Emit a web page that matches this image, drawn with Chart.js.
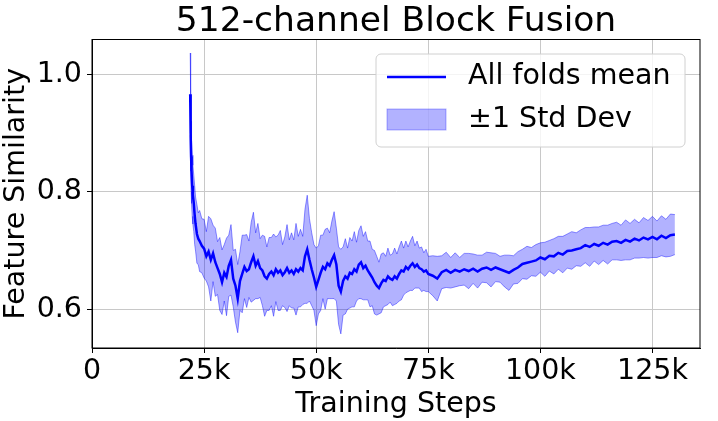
<!DOCTYPE html>
<html>
<head>
<meta charset="utf-8">
<script src="https://cdn.jsdelivr.net/npm/chart.js@4.4.1/dist/chart.umd.min.js"></script>
<style>
  body { margin: 0; background: #fff; }
  #wrap { width: 718px; height: 421px; }
</style>
</head>
<body>
<div id="wrap"><canvas id="myGrafic" width="718" height="421"></canvas></div>
<script>
// training steps (thousands)
var passos = [21.9, 22.0, 22.1, 22.2, 22.35, 22.5, 22.7, 22.9, 23.1, 23.4, 23.7, 24.0, 24.5,
    25.0, 25.5, 26.0, 26.5, 27.0, 27.5, 28.0, 28.5, 29.0, 29.5, 30.0, 30.5, 31.0, 31.5, 32.0, 32.5, 33.0, 33.5, 34.0, 34.5,
    35.0, 35.5, 36.0, 36.5, 37.0, 37.5, 38.0, 38.5, 39.0, 39.5, 40.0, 40.5, 41.0, 41.5, 42.0, 42.5, 43.0, 43.5, 44.0, 44.5,
    45.0, 45.5, 46.0, 46.5, 47.0, 47.5, 48.0, 48.5, 49.0, 49.5, 50.0, 50.5, 51.0, 51.5, 52.0, 52.5, 53.0, 53.5, 54.0, 54.5,
    55.0, 55.5, 56.0, 56.5, 57.0, 57.5, 58.0, 58.5, 59.0, 59.5, 60.0, 60.5, 61.0, 61.5, 62.0, 62.5, 63.0, 63.5, 64.0, 64.5,
    65.0, 65.5, 66.0, 66.5, 67.0, 67.5, 68.0, 68.5, 69.0, 69.5, 70.0, 70.5, 71.0, 71.5, 72.0, 72.5, 73.0, 73.5, 74.0, 74.5,
    75, 76, 77, 78, 79, 80, 81, 82, 83, 84, 85, 86, 87, 88, 89, 90, 91, 92, 93, 94, 95,
    96, 97, 98, 99, 100, 101, 102, 103, 104, 105, 106, 107, 108, 109, 110, 111, 112, 113, 114, 115,
    116, 117, 118, 119, 120, 121, 122, 123, 124, 125, 126, 127, 128, 129, 130];

// all folds mean
var media = [0.966, 0.900, 0.860, 0.835, 0.810, 0.795, 0.780, 0.760, 0.745, 0.728, 0.720, 0.716, 0.708,
    0.703, 0.690, 0.698, 0.684, 0.695, 0.680, 0.670, 0.660, 0.646, 0.662, 0.655, 0.674, 0.684, 0.652, 0.640, 0.618, 0.648, 0.660, 0.672, 0.665,
    0.668, 0.680, 0.690, 0.674, 0.682, 0.670, 0.666, 0.656, 0.652, 0.660, 0.664, 0.658, 0.668, 0.662, 0.666, 0.658, 0.663, 0.670, 0.662, 0.666,
    0.660, 0.668, 0.664, 0.670, 0.666, 0.690, 0.702, 0.684, 0.668, 0.654, 0.638, 0.650, 0.662, 0.672, 0.668, 0.678, 0.674, 0.684, 0.692, 0.676,
    0.640, 0.630, 0.648, 0.656, 0.652, 0.662, 0.660, 0.668, 0.664, 0.676, 0.680, 0.670, 0.674, 0.666, 0.660, 0.654, 0.646, 0.640, 0.636, 0.644,
    0.650, 0.648, 0.656, 0.652, 0.650, 0.656, 0.652, 0.660, 0.666, 0.664, 0.672, 0.668, 0.674, 0.678, 0.672, 0.676, 0.670, 0.668, 0.664, 0.666,
    0.660, 0.657, 0.652, 0.663, 0.667, 0.662, 0.667, 0.664, 0.668, 0.665, 0.669, 0.664, 0.669, 0.671, 0.667, 0.671, 0.668, 0.665, 0.662, 0.667, 0.671,
    0.677, 0.679, 0.681, 0.683, 0.688, 0.685, 0.691, 0.690, 0.696, 0.693, 0.699, 0.700, 0.702, 0.704, 0.709, 0.706, 0.711, 0.708, 0.713, 0.710,
    0.715, 0.716, 0.713, 0.718, 0.715, 0.720, 0.717, 0.722, 0.719, 0.723, 0.719, 0.725, 0.721, 0.726, 0.727];

// standard deviation across folds
var desvio = [0.070, 0.065, 0.060, 0.055, 0.052, 0.050, 0.048, 0.050, 0.046, 0.050, 0.044, 0.052, 0.046,
    0.050, 0.042, 0.060, 0.070, 0.048, 0.058, 0.045, 0.062, 0.055, 0.048, 0.066, 0.052, 0.060, 0.048, 0.062, 0.058, 0.050, 0.066, 0.054, 0.062,
    0.048, 0.068, 0.075, 0.056, 0.064, 0.050, 0.060, 0.068, 0.054, 0.062, 0.058, 0.070, 0.055, 0.064, 0.068, 0.052, 0.060, 0.074, 0.056, 0.064,
    0.058, 0.078, 0.060, 0.066, 0.058, 0.080, 0.092, 0.070, 0.062, 0.056, 0.066, 0.058, 0.064, 0.054, 0.068, 0.060, 0.056, 0.066, 0.074, 0.062,
    0.066, 0.072, 0.058, 0.064, 0.052, 0.060, 0.056, 0.064, 0.050, 0.058, 0.062, 0.054, 0.058, 0.050, 0.056, 0.048, 0.054, 0.050, 0.044, 0.050,
    0.046, 0.042, 0.048, 0.040, 0.044, 0.048, 0.042, 0.046, 0.050, 0.040, 0.044, 0.038, 0.042, 0.046, 0.036, 0.040, 0.034, 0.038, 0.032, 0.036,
    0.030, 0.034, 0.038, 0.028, 0.030, 0.026, 0.029, 0.024, 0.027, 0.030, 0.025, 0.028, 0.023, 0.026, 0.029, 0.024, 0.022, 0.027, 0.030, 0.024, 0.027,
    0.025, 0.028, 0.024, 0.027, 0.025, 0.029, 0.026, 0.030, 0.028, 0.031, 0.029, 0.032, 0.028, 0.031, 0.030, 0.033, 0.029, 0.032, 0.030, 0.033,
    0.031, 0.032, 0.030, 0.034, 0.031, 0.033, 0.030, 0.034, 0.032, 0.035, 0.031, 0.034, 0.032, 0.036, 0.034];

var ticksX = [0, 25, 50, 75, 100, 125];
var ticksY = [0.6, 0.8, 1.0];

var titulo = '512-channel Block Fusion';
var legendas = ['All folds mean', '\u00b11 Std Dev'];

var fonte = '"DejaVu Sans", sans-serif';

var linhaMedia = passos.map((s, i) => ({ x: s, y: media[i] }));
var linhaSup = passos.map((s, i) => ({ x: s, y: media[i] + desvio[i] }));
var linhaInf = passos.map((s, i) => ({ x: s, y: media[i] - desvio[i] }));

// title, frame and legend box
const extras = {
    id: 'extras',
    afterDraw(chart) {
        const ctx = chart.ctx;
        const a = chart.chartArea;
        ctx.save();
        ctx.strokeStyle = '#000';
        ctx.lineWidth = 1;
        ctx.strokeRect(a.left, a.top, a.right - a.left, a.bottom - a.top);

        ctx.fillStyle = '#000';
        ctx.font = '34.5px ' + fonte;
        ctx.textAlign = 'center';
        ctx.textBaseline = 'alphabetic';
        ctx.fillText(titulo, (a.left + a.right) / 2, 31);

        // legend
        const w = 309, h = 93;
        const x0 = a.right - 15 - w, y0 = a.top + 14.5;
        ctx.beginPath();
        ctx.roundRect(x0, y0, w, h, 5);
        ctx.fillStyle = 'rgba(255,255,255,0.8)';
        ctx.fill();
        ctx.strokeStyle = '#d0d0d0';
        ctx.stroke();

        ctx.strokeStyle = '#0000ff';
        ctx.lineWidth = 2.5;
        ctx.beginPath();
        ctx.moveTo(x0 + 11, y0 + 23);
        ctx.lineTo(x0 + 70, y0 + 23);
        ctx.stroke();

        ctx.fillStyle = 'rgba(0,0,255,0.3)';
        ctx.fillRect(x0 + 11, y0 + 55, 59, 21);
        ctx.strokeStyle = 'rgba(0,0,255,0.3)';
        ctx.lineWidth = 1;
        ctx.strokeRect(x0 + 11, y0 + 55, 59, 21);

        ctx.fillStyle = '#000';
        ctx.font = '28.5px ' + fonte;
        ctx.textAlign = 'left';
        ctx.textBaseline = 'middle';
        ctx.fillText(legendas[0], x0 + 92, y0 + 23);
        ctx.fillText(legendas[1], x0 + 92, y0 + 66);
        ctx.restore();
    }
};

var ctx = document.getElementById('myGrafic').getContext('2d');
var grafico = new Chart(ctx, {
    type: 'line',
    data: {
        datasets: [
            {
                label: legendas[0],
                data: linhaMedia,
                borderColor: '#0000ff',
                borderWidth: 2.5,
                pointRadius: 0,
                fill: false,
                tension: 0
            },
            {
                label: 'upper',
                data: linhaSup,
                borderColor: 'rgba(0,0,255,0.42)',
                borderWidth: 1,
                pointRadius: 0,
                fill: false,
                tension: 0
            },
            {
                label: legendas[1],
                data: linhaInf,
                borderColor: 'rgba(0,0,255,0.42)',
                borderWidth: 1,
                backgroundColor: 'rgba(0,0,255,0.3)',
                pointRadius: 0,
                fill: '-1',
                tension: 0
            }
        ]
    },
    plugins: [extras],
    options: {
        responsive: false,
        animation: false,
        devicePixelRatio: 1,
        layout: { padding: { top: 39.5, right: 18, left: 0, bottom: 0 } },
        plugins: {
            legend: { display: false },
            title: { display: false },
            tooltip: { enabled: false }
        },
        scales: {
            x: {
                type: 'linear',
                min: 0,
                max: 135.6,
                afterBuildTicks: s => { s.ticks = ticksX.map(v => ({ value: v })); },
                afterFit: s => { s.height = 73; },
                ticks: {
                    color: '#000',
                    font: { family: fonte, size: 28.5 },
                    padding: 1,
                    maxRotation: 0,
                    callback: v => v === 0 ? '0' : v + 'k'
                },
                grid: { color: '#c8c8c8', tickColor: '#000', tickLength: 5 },
                border: { color: '#000' },
                title: {
                    display: true,
                    text: 'Training Steps',
                    color: '#000',
                    font: { family: fonte, size: 28.5, lineHeight: 1 },
                    padding: { top: 0, bottom: 2 }
                }
            },
            y: {
                min: 0.534,
                max: 1.059,
                afterBuildTicks: s => { s.ticks = ticksY.map(v => ({ value: v })); },
                afterFit: s => { s.width = 92; },
                ticks: {
                    color: '#000',
                    font: { family: fonte, size: 28.5 },
                    padding: 5,
                    callback: v => v.toFixed(1)
                },
                grid: { color: '#c8c8c8', tickColor: '#000', tickLength: 5 },
                border: { color: '#000' },
                title: {
                    display: true,
                    text: 'Feature Similarity',
                    color: '#000',
                    font: { family: fonte, size: 28.5, lineHeight: 1 },
                    padding: { top: 2, bottom: 0 }
                }
            }
        }
    }
});
</script>
</body>
</html>
